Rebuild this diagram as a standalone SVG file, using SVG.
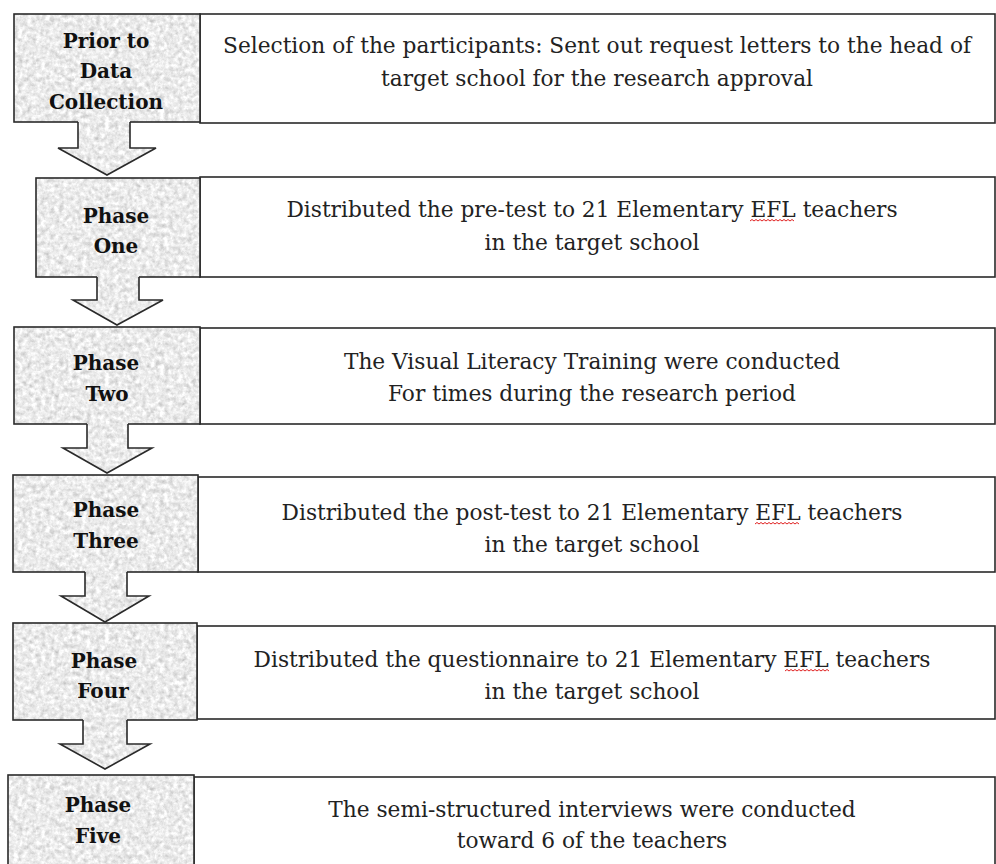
<svg xmlns="http://www.w3.org/2000/svg" width="996" height="864" viewBox="0 0 996 864">
<defs>
  <filter id="grain" x="0" y="0" width="1" height="1" color-interpolation-filters="sRGB">
    <feTurbulence type="fractalNoise" baseFrequency="0.22" numOctaves="4" seed="4" stitchTiles="stitch"/>
    <feColorMatrix type="matrix" values="0.24 0.24 0 0 0.68  0.24 0.24 0 0 0.68  0.24 0.24 0 0 0.68  0 0 0 0 1"/>
  </filter>
  <pattern id="stone" patternUnits="userSpaceOnUse" width="256" height="256">
    <rect width="256" height="256" fill="#e9e9e9" filter="url(#grain)"/>
  </pattern>
</defs>
<style>
  .lab { fill: url(#stone); stroke: #2a2a2a; stroke-width: 1.6; }
  .box { fill: #ffffff; stroke: #2a2a2a; stroke-width: 1.6; }
  .afill { fill: url(#stone); stroke: none; }
  .aline { fill: none; stroke: #2a2a2a; stroke-width: 1.6; stroke-linejoin: miter; }
  .lt { font-family: "DejaVu Serif", "Liberation Serif", serif; font-weight: bold; font-size: 20px; fill: #111; text-anchor: middle; }
  .bt { font-family: "DejaVu Serif", "Liberation Serif", serif; font-size: 21.7px; fill: #222; text-anchor: middle; }
  .sq { fill: none; stroke: #e02020; stroke-width: 1; }
</style>
<rect width="996" height="864" fill="#ffffff"/>

<g id="node-prior">
  <rect class="box" x="200" y="14" width="795" height="109"/>
  <rect class="lab" x="14" y="14" width="186" height="108"/>
  <text class="lt" x="106" y="48">Prior to</text>
  <text class="lt" x="106" y="78">Data</text>
  <text class="lt" x="106" y="109">Collection</text>
  <text class="bt" x="597" y="53">Selection of the participants: Sent out request letters to the head of</text>
  <text class="bt" x="597" y="86">target school for the research approval</text>
</g>

<g id="node-phase-one">
  <rect class="box" x="200" y="177" width="795" height="100"/>
  <rect class="lab" x="36" y="178" width="164" height="99"/>
  <text class="lt" x="116" y="223">Phase</text>
  <text class="lt" x="116" y="253">One</text>
  <text class="bt" x="592" y="217">Distributed the pre-test to 21 Elementary EFL teachers</text>
  <text class="bt" x="592" y="250">in the target school</text>
  <path class="sq" d="M750,221 l2,-1.5 l2,1.5 l2,-1.5 l2,1.5 l2,-1.5 l2,1.5 l2,-1.5 l2,1.5 l2,-1.5 l2,1.5 l2,-1.5 l2,1.5 l2,-1.5 l2,1.5 l2,-1.5 l2,1.5 l2,-1.5 l2,1.5 l2,-1.5 l2,1.5 l2,-1.5 l2,1.5"/>
</g>

<g id="node-phase-two">
  <rect class="box" x="200" y="328" width="795" height="96"/>
  <rect class="lab" x="14" y="327" width="186" height="97"/>
  <text class="lt" x="106" y="370">Phase</text>
  <text class="lt" x="107" y="401">Two</text>
  <text class="bt" x="592" y="369">The Visual Literacy Training were conducted</text>
  <text class="bt" x="592" y="401">For times during the research period</text>
</g>

<g id="node-phase-three">
  <rect class="box" x="198" y="477" width="797" height="95"/>
  <rect class="lab" x="13" y="475" width="185" height="97"/>
  <text class="lt" x="106" y="517">Phase</text>
  <text class="lt" x="106" y="548">Three</text>
  <text class="bt" x="592" y="520">Distributed the post-test to 21 Elementary EFL teachers</text>
  <text class="bt" x="592" y="552">in the target school</text>
  <path class="sq" d="M755,524 l2,-1.5 l2,1.5 l2,-1.5 l2,1.5 l2,-1.5 l2,1.5 l2,-1.5 l2,1.5 l2,-1.5 l2,1.5 l2,-1.5 l2,1.5 l2,-1.5 l2,1.5 l2,-1.5 l2,1.5 l2,-1.5 l2,1.5 l2,-1.5 l2,1.5 l2,-1.5 l2,1.5"/>
</g>

<g id="node-phase-four">
  <rect class="box" x="197" y="626" width="798" height="93"/>
  <rect class="lab" x="13" y="623" width="184" height="97"/>
  <text class="lt" x="104" y="668">Phase</text>
  <text class="lt" x="103" y="698">Four</text>
  <text class="bt" x="592" y="667">Distributed the questionnaire to 21 Elementary EFL teachers</text>
  <text class="bt" x="592" y="699">in the target school</text>
  <path class="sq" d="M785,671 l2,-1.5 l2,1.5 l2,-1.5 l2,1.5 l2,-1.5 l2,1.5 l2,-1.5 l2,1.5 l2,-1.5 l2,1.5 l2,-1.5 l2,1.5 l2,-1.5 l2,1.5 l2,-1.5 l2,1.5 l2,-1.5 l2,1.5 l2,-1.5 l2,1.5 l2,-1.5 l2,1.5"/>
</g>

<g id="node-phase-five">
  <rect class="box" x="194" y="777" width="801" height="100"/>
  <rect class="lab" x="8" y="775" width="186" height="102"/>
  <text class="lt" x="98" y="812">Phase</text>
  <text class="lt" x="98" y="843">Five</text>
  <text class="bt" x="592" y="817">The semi-structured interviews were conducted</text>
  <text class="bt" x="592" y="848">toward 6 of the teachers</text>
</g>

<g id="connectors">
  <g id="arrow-1">
    <polygon class="afill" points="78,120.5 130,120.5 130,148 156,148 107,175 58,148 78,148"/>
    <path class="aline" d="M78,122 V148 H58 L107,175 L156,148 H130 V122"/>
  </g>
  <g id="arrow-2">
    <polygon class="afill" points="97,275.5 139,275.5 139,300 163,300 117,325 73,300 97,300"/>
    <path class="aline" d="M97,277 V300 H73 L117,325 L163,300 H139 V277"/>
  </g>
  <g id="arrow-3">
    <polygon class="afill" points="87,422.5 128,422.5 128,448 152,448 107,473 63,448 87,448"/>
    <path class="aline" d="M87,424 V448 H63 L107,473 L152,448 H128 V424"/>
  </g>
  <g id="arrow-4">
    <polygon class="afill" points="85,570.5 127,570.5 127,596 149,596 105,622 61,596 85,596"/>
    <path class="aline" d="M85,572 V596 H61 L105,622 L149,596 H127 V572"/>
  </g>
  <g id="arrow-5">
    <polygon class="afill" points="83,718.5 127,718.5 127,744 150,744 105,769 60,744 83,744"/>
    <path class="aline" d="M83,720 V744 H60 L105,769 L150,744 H127 V720"/>
  </g>
</g>
</svg>
